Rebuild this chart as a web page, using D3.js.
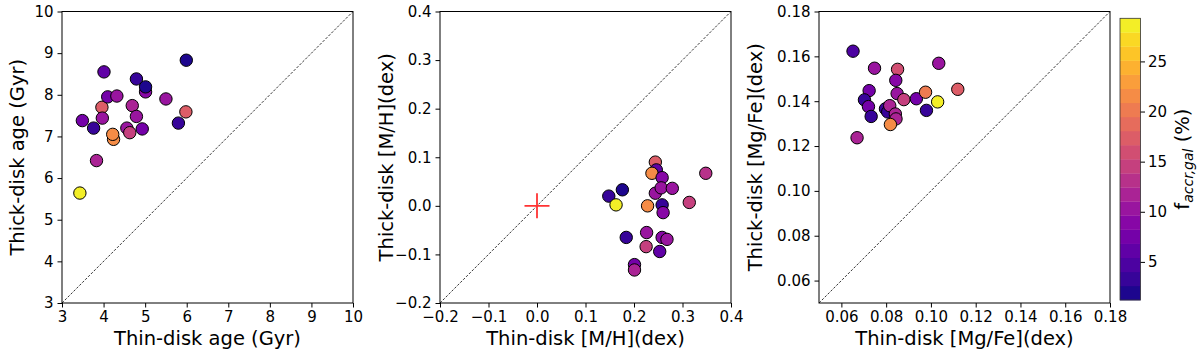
<!DOCTYPE html>
<html>
<head>
<meta charset="utf-8">
<script src="https://cdn.jsdelivr.net/npm/d3@7"></script>
<style>
body { margin: 0; background: #fff; }
text { font-family: "DejaVu Sans", sans-serif; fill: #000; }
</style>
</head>
<body>
<div class="static-image"></div>
<script>
// panel 1: ages
var thinAge = [3.43, 3.83, 3.49, 3.76, 4.01, 3.96, 3.97, 4.10, 4.32, 4.24, 4.22, 4.56, 4.63, 4.69, 4.79, 4.93, 4.79, 5.01, 5.01, 5.50, 5.80, 5.98, 5.99];
var thickAge = [5.64, 6.42, 7.38, 7.20, 8.55, 7.70, 7.44, 7.95, 7.97, 6.93, 7.05, 7.20, 7.09, 7.74, 7.48, 7.18, 8.38, 8.07, 8.19, 7.90, 7.32, 7.59, 8.83];
var faccrAge = [28.5, 12, 8, 3, 6, 17, 10, 8, 11, 21, 22, 11, 14, 12, 10, 7, 3, 9, 2.5, 11, 4, 18, 2];

// panel 2: [M/H]
var thinMH = [0.148, 0.176, 0.163, 0.184, 0.226, 0.225, 0.201, 0.201, 0.244, 0.246, 0.237, 0.258, 0.348, 0.244, 0.256, 0.279, 0.228, 0.258, 0.260, 0.314, 0.258, 0.268, 0.253];
var thickMH = [0.020, 0.033, 0.002, -0.065, -0.055, -0.084, -0.121, -0.132, 0.090, 0.074, 0.067, 0.058, 0.067, 0.026, 0.037, 0.036, 0.000, 0.002, -0.014, 0.007, -0.065, -0.069, -0.094];
var faccrMH = [3, 2, 28.5, 3, 10, 15, 7, 12, 17, 6, 22, 9, 13, 10, 11, 11, 21, 3, 9, 14, 9, 10, 6];

// panel 3: [Mg/Fe]
var thinMgFe = [0.0652, 0.0748, 0.0670, 0.0724, 0.0703, 0.0721, 0.0733, 0.0851, 0.0843, 0.0849, 0.0879, 0.0935, 0.0976, 0.1035, 0.1120, 0.1030, 0.0980, 0.0797, 0.0807, 0.0816, 0.0841, 0.0844, 0.0819];
var thickMgFe = [0.1623, 0.1547, 0.1237, 0.1447, 0.1406, 0.1376, 0.1332, 0.1542, 0.1493, 0.1434, 0.1407, 0.1411, 0.1440, 0.1569, 0.1453, 0.1397, 0.1359, 0.1366, 0.1352, 0.1380, 0.1343, 0.1321, 0.1296];
var faccrMgFe = [5, 10, 12, 7, 3, 8, 3, 16, 9, 11, 14, 8, 20, 11, 17, 28.5, 4, 3, 3, 12, 12, 12, 21];

var ageTicks = [3, 4, 5, 6, 7, 8, 9, 10];
var mhTicks = [-0.2, -0.1, 0.0, 0.1, 0.2, 0.3, 0.4];
var mgfeTicks = [0.06, 0.08, 0.10, 0.12, 0.14, 0.16, 0.18];
var cbarTicks = [5, 10, 15, 20, 25];

var width = 1200;
var height = 356;
var plotTop = 11.5;
var plotBottom = 303;
var size = 291;
var cmin = 1.2, cmax = 29.3, nBands = 20;

var svg = d3.select(".static-image")
    .append("svg")
    .attr("width", width)
    .attr("height", height);

// discrete plasma colormap
var band = (cmax - cmin) / nBands;
function color(v) {
    var k = Math.min(nBands - 1, Math.max(0, Math.floor((v - cmin) / band)));
    return d3.interpolatePlasma((k + 0.5) / nBands);
}

var panels = [
    {left: 62, xs: thinAge, ys: thickAge, cs: faccrAge, dom: [3, 10], ticks: ageTicks, fmt: d3.format("d"),
     xlabel: "Thin-disk age (Gyr)", ylabel: "Thick-disk age (Gyr)", ylabelX: 17},
    {left: 440, xs: thinMH, ys: thickMH, cs: faccrMH, dom: [-0.2, 0.4], ticks: mhTicks, fmt: d3.format(".1f"),
     xlabel: "Thin-disk [M/H](dex)", ylabel: "Thick-disk [M/H](dex)", ylabelX: 386, cross: true},
    {left: 819, xs: thinMgFe, ys: thickMgFe, cs: faccrMgFe, dom: [0.05, 0.18], ticks: mgfeTicks, fmt: d3.format(".2f"),
     xlabel: "Thin-disk [Mg/Fe](dex)", ylabel: "Thick-disk [Mg/Fe](dex)", ylabelX: 755}
];

panels.forEach(function (p) {
    var x = d3.scaleLinear().domain(p.dom).range([p.left, p.left + size]);
    var y = d3.scaleLinear().domain(p.dom).range([plotBottom, plotTop]);
    var g = svg.append("g");

    // diagonal 1:1 line
    g.append("line")
        .attr("x1", x(p.dom[0])).attr("y1", y(p.dom[0]))
        .attr("x2", x(p.dom[1])).attr("y2", y(p.dom[1]))
        .attr("stroke", "#000")
        .attr("stroke-width", 0.8)
        .attr("stroke-dasharray", "2.5,1.6");

    var xa = g.append("g")
        .attr("transform", "translate(0," + plotBottom + ")")
        .call(d3.axisBottom(x).tickValues(p.ticks).tickFormat(p.fmt).tickSize(4.5).tickPadding(4));
    var ya = g.append("g")
        .attr("transform", "translate(" + p.left + ",0)")
        .call(d3.axisLeft(y).tickValues(p.ticks).tickFormat(p.fmt).tickSize(4.5).tickPadding(4));
    [xa, ya].forEach(function (a) {
        a.select(".domain").remove();
        a.selectAll("text").style("font-size", "15px").attr("fill", "#000");
        a.selectAll("line").attr("stroke", "#000").attr("stroke-width", 1);
    });

    if (p.cross) {
        g.append("path")
            .attr("d", "M" + (x(0) - 12.5) + "," + y(0) + "H" + (x(0) + 12.5) +
                "M" + x(0) + "," + (y(0) - 12.5) + "V" + (y(0) + 12.5))
            .attr("stroke", "#f33")
            .attr("stroke-width", 1.8);
    }

    g.selectAll("circle")
        .data(p.xs)
        .enter()
        .append("circle")
        .attr("cx", function (d) { return x(d); })
        .attr("cy", function (d, i) { return y(p.ys[i]); })
        .attr("r", 6.2)
        .attr("fill", function (d, i) { return color(p.cs[i]); })
        .attr("stroke", "#000")
        .attr("stroke-width", 1);

    g.append("rect")
        .attr("x", p.left).attr("y", plotTop)
        .attr("width", size).attr("height", plotBottom - plotTop)
        .attr("fill", "none")
        .attr("stroke", "#000")
        .attr("stroke-width", 1);

    g.append("text")
        .attr("x", p.left + size / 2)
        .attr("y", 345)
        .attr("text-anchor", "middle")
        .style("font-size", "19.5px")
        .text(p.xlabel);
    g.append("text")
        .attr("transform", "translate(" + p.ylabelX + "," + ((plotTop + plotBottom) / 2) + ") rotate(-90)")
        .attr("text-anchor", "middle")
        .attr("dy", "0.35em")
        .style("font-size", "19.5px")
        .text(p.ylabel);
});

// colorbar
var cbLeft = 1120, cbW = 20.5, cbTop = 18.3, cbBottom = 300;
var cy = d3.scaleLinear().domain([cmin, cmax]).range([cbBottom, cbTop]);
var bands = d3.range(nBands);
svg.append("g").selectAll("rect")
    .data(bands)
    .enter()
    .append("rect")
    .attr("x", cbLeft)
    .attr("y", function (k) { return cy(cmin + (k + 1) * band); })
    .attr("width", cbW)
    .attr("height", function (k) { return cy(cmin + k * band) - cy(cmin + (k + 1) * band) + 0.3; })
    .attr("fill", function (k) { return d3.interpolatePlasma((k + 0.5) / nBands); });
svg.append("rect")
    .attr("x", cbLeft).attr("y", cbTop)
    .attr("width", cbW).attr("height", cbBottom - cbTop)
    .attr("fill", "none")
    .attr("stroke", "#333")
    .attr("stroke-width", 0.8);
var ca = svg.append("g")
    .attr("transform", "translate(" + (cbLeft + cbW) + ",0)")
    .call(d3.axisRight(cy).tickValues(cbarTicks).tickSize(4.5).tickPadding(3));
ca.select(".domain").remove();
ca.selectAll("text").style("font-size", "15px").attr("fill", "#000");
ca.selectAll("line").attr("stroke", "#000");

var cl = svg.append("text")
    .attr("transform", "translate(1182," + ((cbTop + cbBottom) / 2) + ") rotate(-90)")
    .attr("text-anchor", "middle")
    .attr("dy", "0.35em")
    .style("font-size", "19.5px");
cl.append("tspan").text("f");
cl.append("tspan").attr("dy", "4").style("font-size", "14px").style("font-style", "italic").text("accr,gal");
cl.append("tspan").attr("dy", "-4").text(" (%)");
</script>
</body>
</html>
